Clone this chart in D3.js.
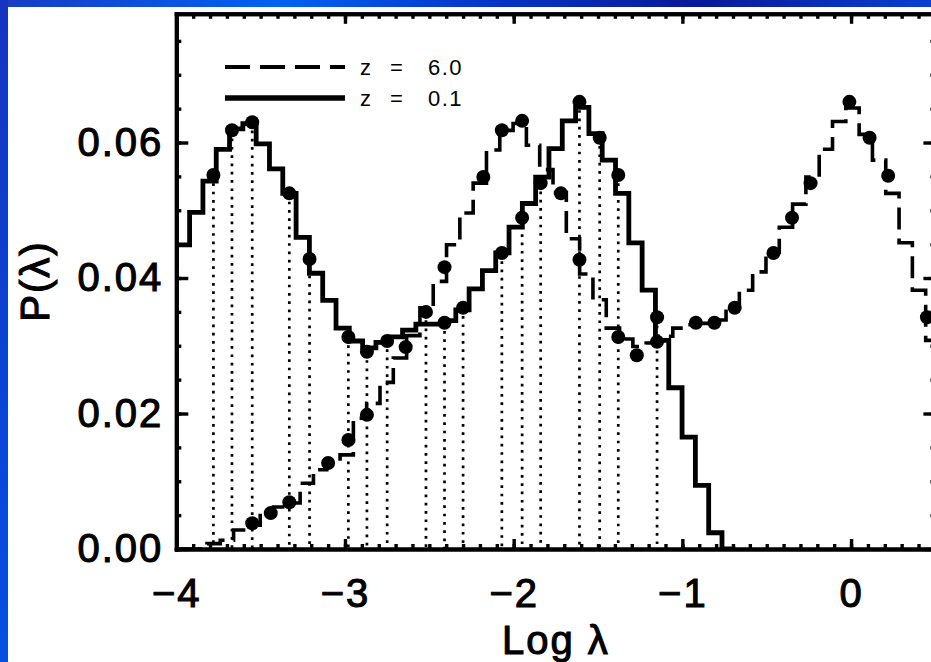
<!DOCTYPE html>
<html><head><meta charset="utf-8">
<script src="https://cdn.jsdelivr.net/npm/d3@7"></script>
<style>html,body{margin:0;padding:0;background:#fff;overflow:hidden}</style>
</head><body>
<svg id="c" width="931" height="662"></svg>
<script>
// ---------------- data ----------------
const xTickValues = [-4, -3, -2, -1, 0];
const yTickValues = [0, 0.02, 0.04, 0.06];
const binWidth = 0.0789;

// z = 0.1 histogram (solid), bins start just left of log λ = -4
const solidStart = -4.0789;
const solidValues = [0.0416, 0.0449, 0.0497, 0.0543, 0.0590, 0.0620, 0.0628, 0.0598, 0.0561, 0.0525,
  0.0460, 0.0407, 0.0367, 0.0326, 0.0307, 0.0297, 0.0305, 0.0313, 0.0323, 0.0332,
  0.0332, 0.0337, 0.0353, 0.0384, 0.0411, 0.0437, 0.0475, 0.0510, 0.0549, 0.0591,
  0.0632, 0.0652, 0.0613, 0.0574, 0.0525, 0.0452, 0.0382, 0.0308, 0.0238, 0.0165,
  0.0094, 0.0024, 0];

// z = 6.0 histogram (dashed)
const dashedStart = -3.976;
const dashedValues = [0, 0, 0.0008, 0.0013, 0.0028, 0.0035, 0.0055, 0.0062, 0.0068, 0.0097,
  0.0117, 0.0127, 0.0139, 0.0193, 0.0215, 0.0246, 0.0282, 0.0315, 0.0356, 0.0395,
  0.0449, 0.0496, 0.0540, 0.0589, 0.0618, 0.0628, 0.0596, 0.0560, 0.0526, 0.0458,
  0.0406, 0.0368, 0.0326, 0.0310, 0.0299, 0.0304, 0.0314, 0.0326, 0.0331, 0.0333,
  0.0338, 0.0356, 0.0382, 0.0409, 0.0438, 0.0475, 0.0509, 0.0549, 0.0590, 0.0631,
  0.0651, 0.0612, 0.0574, 0.0525, 0.0452, 0.0382, 0.0308];

// points on the z = 0.1 curve (with dotted drop lines)
const solidDotX = [-3.78, -3.67, -3.55, -3.33, -3.21, -2.98, -2.87, -2.75, -2.52, -2.41, -2.30, -2.07, -1.95, -1.84, -1.61, -1.49, -1.38, -1.15];
const solidDotY = [0.0552, 0.0618, 0.0630, 0.0525, 0.0428, 0.0313, 0.0291, 0.0307, 0.0350, 0.0334, 0.0356, 0.0437, 0.0489, 0.0540, 0.0660, 0.0607, 0.0552, 0.0342];

// points on the z = 6.0 curve
const dashedDotX = [-3.55, -3.44, -3.33, -3.10, -2.98, -2.87, -2.64, -2.41, -2.18, -2.07, -1.95, -1.72, -1.61, -1.38, -1.27, -1.15, -0.92, -0.81, -0.69, -0.46, -0.35, -0.24, -0.01, 0.11, 0.22, 0.45];
const dashedDotY = [0.0038, 0.0053, 0.0069, 0.0127, 0.0161, 0.0198, 0.0298, 0.0416, 0.0549, 0.0618, 0.0632, 0.0525, 0.0427, 0.0313, 0.0286, 0.0306, 0.0334, 0.0334, 0.0356, 0.0437, 0.0489, 0.0540, 0.0660, 0.0607, 0.0551, 0.0342];

const legendLabels = [["z", "=", "6.0"], ["z", "=", "0.1"]];

// ---------------- drawing ----------------
const svg = d3.select('#c');
const W = 931, H = 662;

const defs = svg.append('defs');
const gTop = defs.append('linearGradient').attr('id', 'gtop').attr('x1', '0').attr('x2', '1').attr('y1', '0').attr('y2', '0');
[['0%', '#1a3cc4'], ['30%', '#0062f2'], ['52%', '#0736c8'], ['75%', '#081a98'], ['100%', '#0b3fd0']]
  .forEach(s => gTop.append('stop').attr('offset', s[0]).attr('stop-color', s[1]));
const gLeft = defs.append('linearGradient').attr('id', 'gleft').attr('x1', '0').attr('x2', '0').attr('y1', '0').attr('y2', '1');
[['0%', '#1534c0'], ['100%', '#0550e0']]
  .forEach(s => gLeft.append('stop').attr('offset', s[0]).attr('stop-color', s[1]));
defs.append('clipPath').attr('id', 'plotclip').append('rect')
  .attr('x', 176.3).attr('y', 0).attr('width', 760).attr('height', 549);

svg.append('rect').attr('x', 0).attr('y', 0).attr('width', W).attr('height', H).attr('fill', '#fff');
svg.append('rect').attr('x', 0).attr('y', 0).attr('width', W).attr('height', 7).attr('fill', 'url(#gtop)');
svg.append('rect').attr('x', 0).attr('y', 0).attr('width', 8).attr('height', H).attr('fill', 'url(#gleft)');

const x = d3.scaleLinear().domain([-4, 0.5]).range([176.3, 935.4]);
const y = d3.scaleLinear().domain([0, 0.079]).range([549, 13.8]);

const plot = svg.append('g').attr('clip-path', 'url(#plotclip)');

plot.append('g').selectAll('line').data(solidDotX).join('line')
  .attr('x1', d => x(d)).attr('x2', d => x(d))
  .attr('y1', (d, i) => y(solidDotY[i])).attr('y2', y(0))
  .attr('stroke', '#000').attr('stroke-width', 2.7).attr('stroke-dasharray', '2.7,5.6');

function stepPoints(start, vals) {
  const pts = vals.map((v, i) => [start + i * binWidth, v]);
  pts.push([start + vals.length * binWidth, vals[vals.length - 1]]);
  return pts;
}
const stepLine = d3.line().x(d => x(d[0])).y(d => y(d[1])).curve(d3.curveStepAfter);

plot.append('path').attr('d', stepLine(stepPoints(dashedStart, dashedValues)))
  .attr('fill', 'none').attr('stroke', '#000').attr('stroke-width', 3.6)
  .attr('stroke-dasharray', '22,9');
plot.append('path').attr('d', stepLine(stepPoints(solidStart, solidValues)))
  .attr('fill', 'none').attr('stroke', '#000').attr('stroke-width', 4.8)
  .attr('stroke-linejoin', 'miter');

plot.append('g').selectAll('circle').data(solidDotX).join('circle')
  .attr('cx', d => x(d)).attr('cy', (d, i) => y(solidDotY[i])).attr('r', 7).attr('fill', '#000');
plot.append('g').selectAll('circle').data(dashedDotX).join('circle')
  .attr('cx', d => x(d)).attr('cy', (d, i) => y(dashedDotY[i])).attr('r', 7).attr('fill', '#000');

// axes
const fmtX = d => d < 0 ? '\u2212' + Math.abs(d) : String(d);
const fmtY = d3.format('.2f');
const xMinor = d3.range(-40, 6).map(i => i / 10);
const yMinor = d3.range(0, 16).map(i => i * 0.005);
const FONT = '"Liberation Sans", Arial, Helvetica, sans-serif';

function bigText(sel) {
  sel.attr('font-family', FONT).attr('font-size', 40).attr('font-weight', 'normal')
    .attr('fill', '#000').attr('stroke', '#000').attr('stroke-width', 1.1).attr('letter-spacing', 2);
}
function style(g, showText) {
  g.select('.domain').attr('stroke-width', 4).attr('stroke-linecap', 'square');
  g.selectAll('.tick line').attr('stroke-width', 3.4);
  if (showText) g.selectAll('.tick text').call(bigText);
  else g.selectAll('.tick text').remove();
}

svg.append('g').attr('transform', `translate(0,${y(0)})`)
  .call(d3.axisBottom(x).tickValues(xMinor).tickSize(-5).tickSizeOuter(0).tickFormat(''))
  .call(g => style(g, false));
svg.append('g').attr('transform', `translate(0,${y(0.079)})`)
  .call(d3.axisTop(x).tickValues(xMinor).tickSize(-5).tickSizeOuter(0).tickFormat(''))
  .call(g => style(g, false));
svg.append('g').attr('transform', `translate(${x(-4)},0)`)
  .call(d3.axisLeft(y).tickValues(yMinor).tickSize(-5).tickSizeOuter(0).tickFormat(''))
  .call(g => style(g, false));
svg.append('g').attr('transform', `translate(${x(0.5)},0)`)
  .call(d3.axisRight(y).tickValues(yMinor).tickSize(-5).tickSizeOuter(0).tickFormat(''))
  .call(g => style(g, false));

svg.append('g').attr('transform', `translate(0,${y(0)})`)
  .call(d3.axisBottom(x).tickValues(xTickValues).tickSize(-10).tickSizeOuter(0).tickPadding(30).tickFormat(fmtX))
  .call(g => style(g, true));
svg.append('g').attr('transform', `translate(0,${y(0.079)})`)
  .call(d3.axisTop(x).tickValues(xTickValues).tickSize(-10).tickSizeOuter(0).tickFormat(''))
  .call(g => style(g, false));
svg.append('g').attr('transform', `translate(${x(-4)},0)`)
  .call(d3.axisLeft(y).tickValues(yTickValues).tickSize(-12).tickSizeOuter(0).tickPadding(13).tickFormat(fmtY))
  .call(g => style(g, true));
svg.append('g').attr('transform', `translate(${x(0.5)},0)`)
  .call(d3.axisRight(y).tickValues(yTickValues).tickSize(-12).tickSizeOuter(0).tickFormat(''))
  .call(g => style(g, false));

svg.append('text').attr('x', (x(-4) + x(0.5)) / 2).attr('y', 654)
  .attr('text-anchor', 'middle').call(bigText).text('Log \u03bb');
svg.append('text').attr('transform', 'translate(49,281) rotate(-90)')
  .attr('text-anchor', 'middle').call(bigText).text('P(\u03bb)');

// legend
const leg = svg.append('g');
leg.append('line').attr('x1', 225).attr('x2', 345).attr('y1', 67).attr('y2', 67)
  .attr('stroke', '#000').attr('stroke-width', 4).attr('stroke-dasharray', '25,10');
leg.append('line').attr('x1', 225).attr('x2', 345).attr('y1', 98).attr('y2', 98)
  .attr('stroke', '#000').attr('stroke-width', 5.5);
const partX = [360, 390, 428];
leg.selectAll('g.row').data(legendLabels).join('g').attr('class', 'row')
  .each(function (parts, i) {
    d3.select(this).selectAll('text').data(parts).join('text')
      .attr('x', (d, j) => partX[j]).attr('y', 75 + i * 31)
      .attr('font-family', FONT).attr('font-size', 22).attr('letter-spacing', 1.5)
      .attr('fill', '#000').text(d => d);
  });
</script>
</body></html>
